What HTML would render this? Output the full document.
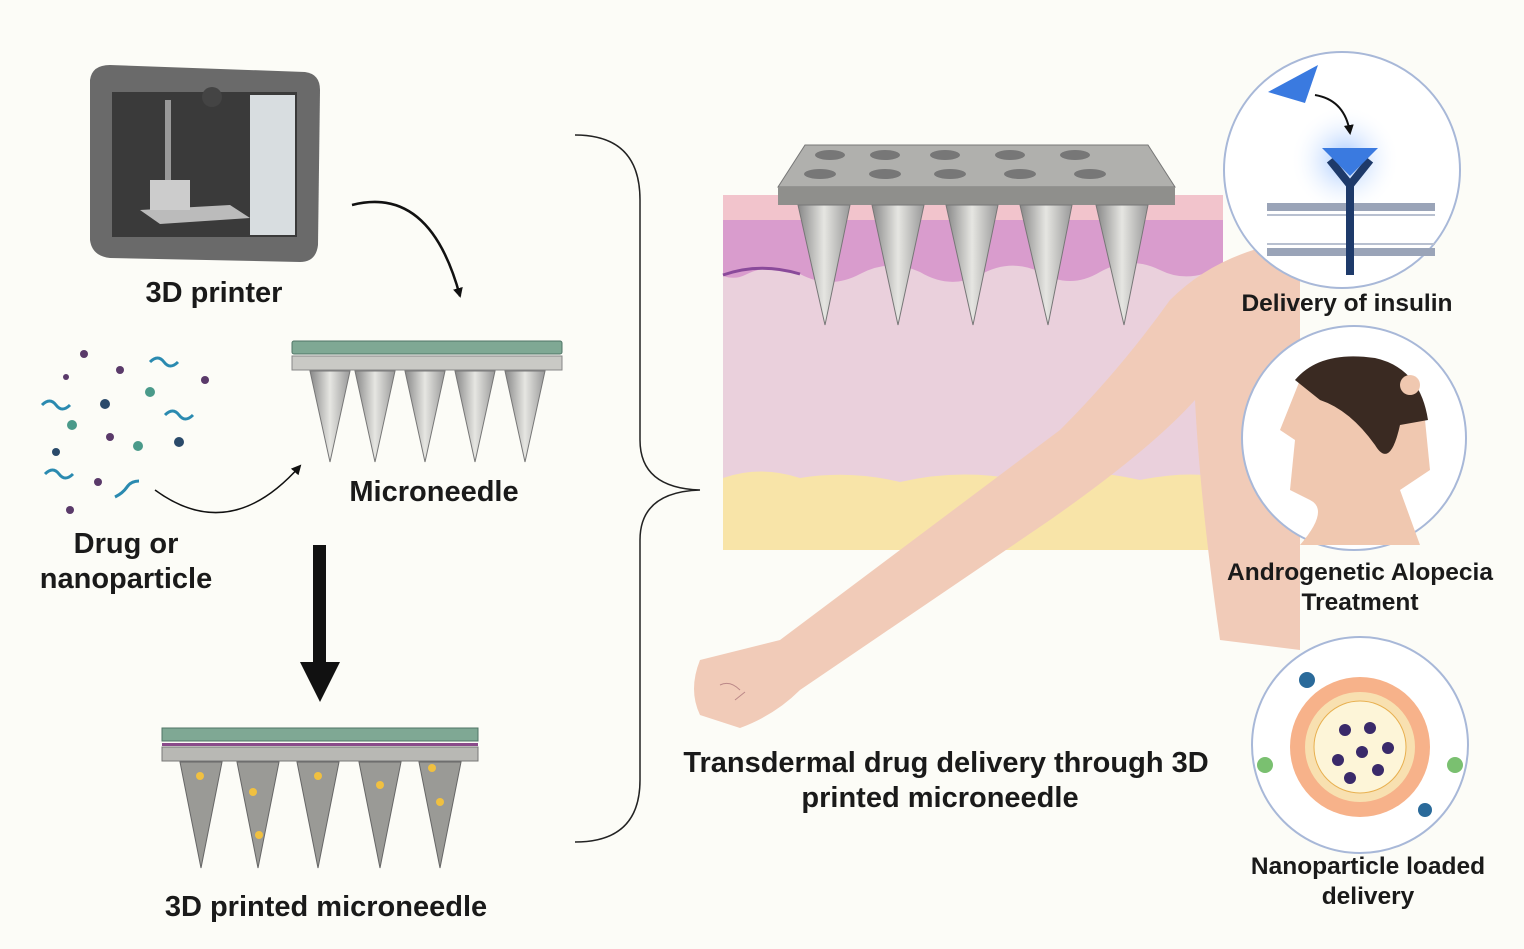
<!DOCTYPE html>
<html><head><meta charset="utf-8"><style>
html,body{margin:0;padding:0;background:#fcfcf7;}
svg{display:block}
text{font-family:"Liberation Sans",sans-serif;font-weight:bold;fill:#1a1a1a;font-size:29px;text-anchor:middle}
text.s{font-size:24.5px}
</style></head><body>
<svg width="1524" height="949" viewBox="0 0 1524 949" xmlns="http://www.w3.org/2000/svg">
<defs>
<marker id="ah" markerWidth="10" markerHeight="10" refX="8" refY="5" orient="auto" markerUnits="userSpaceOnUse"><path d="M0,0 L10,5 L0,10 Z" fill="#111"/></marker>
<linearGradient id="ndl" x1="0" x2="1"><stop offset="0" stop-color="#888"/><stop offset=".5" stop-color="#e6e6e2"/><stop offset="1" stop-color="#999"/></linearGradient>
<radialGradient id="glow"><stop offset="0" stop-color="#9ec4ff"/><stop offset="1" stop-color="#fff" stop-opacity="0"/></radialGradient>
</defs>
<rect width="1524" height="949" fill="#fcfcf7"/>
<path d="M90,80 Q92,65 110,65 L305,72 Q320,74 320,90 L318,245 Q316,262 300,262 L110,258 Q92,256 90,240 Z" fill="#6a6a6a"/>
<rect x="112" y="92" width="185" height="145" fill="#3a3a3a"/>
<rect x="250" y="95" width="45" height="140" fill="#d8dde0"/>
<circle cx="212" cy="97" r="10" fill="#444"/>
<rect x="165" y="100" width="6" height="90" fill="#999"/>
<path d="M140,210 L230,205 L250,218 L160,224 Z" fill="#bbb"/>
<rect x="150" y="180" width="40" height="30" fill="#ccc"/>
<text x="214" y="302">3D printer</text>
<path d="M352,205 Q430,185 460,296" fill="none" stroke="#111" stroke-width="2.5" marker-end="url(#ah)"/>
<path d="M155,490 Q230,545 300,466" fill="none" stroke="#111" stroke-width="1.5" marker-end="url(#ah)"/>
<rect x="292" y="341" width="270" height="13" rx="2" fill="#7fa894" stroke="#4f7566"/>
<rect x="292" y="356" width="270" height="14" fill="#c9c9c5" stroke="#888"/>
<g fill="url(#ndl)" stroke="#777">
<path d="M310,371 L350,371 L330,462 Z"/><path d="M355,371 L395,371 L375,462 Z"/><path d="M405,371 L445,371 L425,462 Z"/><path d="M455,371 L495,371 L475,462 Z"/><path d="M505,371 L545,371 L525,462 Z"/>
</g>
<text x="434" y="501">Microneedle</text>
<g fill="#5a3a6a"><circle cx="84" cy="354" r="4"/><circle cx="120" cy="370" r="4"/><circle cx="205" cy="380" r="4"/><circle cx="66" cy="377" r="3"/><circle cx="110" cy="437" r="4"/><circle cx="98" cy="482" r="4"/><circle cx="70" cy="510" r="4"/></g>
<g fill="#2a4a6a"><circle cx="105" cy="404" r="5"/><circle cx="179" cy="442" r="5"/><circle cx="56" cy="452" r="4"/></g>
<g fill="#4a9a8a"><circle cx="150" cy="392" r="5"/><circle cx="72" cy="425" r="5"/><circle cx="138" cy="446" r="5"/></g>
<g fill="none" stroke="#2a8ab0" stroke-width="3"><path d="M150,362 q8,-8 14,0 t14,0"/><path d="M42,405 q8,-8 14,0 t14,0"/><path d="M165,415 q8,-8 14,0 t14,0"/><path d="M45,474 q8,-8 14,0 t14,0"/><path d="M115,497 q8,-4 12,-10 t12,-6"/></g>
<text x="126" y="553">Drug or</text>
<text x="126" y="588">nanoparticle</text>
<rect x="313" y="545" width="13" height="120" fill="#111"/>
<path d="M300,662 L340,662 L320,702 Z" fill="#111"/>
<rect x="162" y="728" width="316" height="13" fill="#7fa894" stroke="#4f7566"/>
<rect x="162" y="743" width="316" height="3" fill="#8a4a8a"/>
<rect x="162" y="747" width="316" height="14" fill="#b8b8b4" stroke="#777"/>
<g fill="#9a9a96" stroke="#666">
<path d="M180,762 L222,762 L201,868 Z"/><path d="M237,762 L279,762 L258,868 Z"/><path d="M297,762 L339,762 L318,868 Z"/><path d="M359,762 L401,762 L380,868 Z"/><path d="M419,762 L461,762 L440,868 Z"/>
</g>
<g fill="#f0c040"><circle cx="200" cy="776" r="4"/><circle cx="253" cy="792" r="4"/><circle cx="259" cy="835" r="4"/><circle cx="318" cy="776" r="4"/><circle cx="380" cy="785" r="4"/><circle cx="432" cy="768" r="4"/><circle cx="440" cy="802" r="4"/></g>
<text x="326" y="916">3D printed microneedle</text>
<path d="M575,135 Q640,135 640,200 L640,440 Q640,488 700,490 Q640,492 640,540 L640,780 Q640,842 575,842" fill="none" stroke="#222" stroke-width="1.5"/>
<rect x="723" y="195" width="500" height="355" fill="#ead0dc"/>
<rect x="723" y="195" width="500" height="25" fill="#f2c4cc"/>
<path d="M723,220 L1223,220 L1223,265 Q1190,285 1160,270 Q1130,255 1100,272 Q1070,290 1040,272 Q1010,258 980,275 Q950,290 920,272 Q890,258 860,274 Q830,290 800,274 Q770,262 745,275 Q735,280 723,276 Z" fill="#d99ccd"/>
<path d="M723,275 Q760,262 800,274" stroke="#8a4a9a" stroke-width="3" fill="none"/>
<path d="M723,478 Q760,465 800,478 Q850,470 900,482 Q960,468 1020,480 Q1080,466 1140,480 Q1190,470 1223,478 L1223,550 L723,550 Z" fill="#f8e4a8"/>
<path d="M805,145 L1148,145 L1175,187 L778,187 Z" fill="#b0b0ad" stroke="#777"/>
<rect x="778" y="187" width="397" height="18" fill="#8f8f8c"/>
<g fill="#777"><ellipse cx="830" cy="155" rx="15" ry="5"/><ellipse cx="885" cy="155" rx="15" ry="5"/><ellipse cx="945" cy="155" rx="15" ry="5"/><ellipse cx="1010" cy="155" rx="15" ry="5"/><ellipse cx="1075" cy="155" rx="15" ry="5"/>
<ellipse cx="820" cy="174" rx="16" ry="5"/><ellipse cx="885" cy="174" rx="16" ry="5"/><ellipse cx="950" cy="174" rx="16" ry="5"/><ellipse cx="1020" cy="174" rx="16" ry="5"/><ellipse cx="1090" cy="174" rx="16" ry="5"/></g>
<g fill="url(#ndl)" stroke="#777">
<path d="M798,205 L850,205 L825,325 Z"/><path d="M872,205 L924,205 L898,325 Z"/><path d="M946,205 L998,205 L973,325 Z"/><path d="M1020,205 L1072,205 L1048,325 Z"/><path d="M1096,205 L1148,205 L1124,325 Z"/>
</g>
<path d="M1300,240 Q1220,250 1170,300 Q1120,370 1060,430 L780,640 L700,660 Q688,690 700,715 L740,728 Q775,715 800,690 L1050,520 Q1150,450 1195,400 Q1200,500 1220,640 L1300,650 Z" fill="#f1cbb8"/>
<path d="M720,685 q10,-5 20,5 M735,700 l10,-8" stroke="#b88" fill="none"/>
<circle cx="1342" cy="170" r="118" fill="#fff" stroke="#a8b8d8" stroke-width="2"/>
<circle cx="1345" cy="160" r="55" fill="url(#glow)"/>
<g fill="#9aa4b8"><rect x="1267" y="203" width="168" height="8"/><rect x="1267" y="248" width="168" height="8"/></g>
<g stroke="#b8c0d0" stroke-width="2"><path d="M1267,215 L1435,215 M1267,244 L1435,244"/></g>
<path d="M1330,160 L1350,185 L1370,160" stroke="#1e3a6a" stroke-width="8" fill="none"/>
<rect x="1346" y="185" width="8" height="90" fill="#1e3a6a"/>
<path d="M1322,148 L1378,148 L1350,176 Z" fill="#3a7ae0"/>
<path d="M1268,92 L1318,65 L1305,103 Z" fill="#3a7ae0"/>
<path d="M1315,95 Q1345,100 1350,133" fill="none" stroke="#111" stroke-width="2" marker-end="url(#ah)"/>
<text class="s" x="1347" y="311">Delivery of insulin</text>
<circle cx="1354" cy="438" r="112" fill="#fff" stroke="#a8b8d8" stroke-width="2"/>
<path d="M1300,380 Q1320,355 1370,360 Q1420,370 1425,420 L1430,470 L1400,490 L1420,545 L1300,545 Q1330,510 1310,500 L1290,490 L1295,440 L1280,430 Z" fill="#f0c8b0"/>
<path d="M1295,380 Q1320,350 1375,358 Q1420,368 1428,420 L1400,425 Q1390,470 1375,445 Q1350,410 1320,400 Z" fill="#3a2a22"/>
<circle cx="1410" cy="385" r="10" fill="#f0c8b0"/>
<text class="s" x="1360" y="580">Androgenetic Alopecia</text>
<text class="s" x="1360" y="610">Treatment</text>
<circle cx="1360" cy="745" r="108" fill="#fff" stroke="#a8b8d8" stroke-width="2"/>
<circle cx="1360" cy="747" r="70" fill="#f7b28a"/>
<circle cx="1360" cy="747" r="55" fill="#f8e0b0"/>
<circle cx="1360" cy="747" r="46" fill="#fdf5d8" stroke="#e8b050"/>
<g fill="#3a2a6a"><circle cx="1345" cy="730" r="6"/><circle cx="1370" cy="728" r="6"/><circle cx="1388" cy="748" r="6"/><circle cx="1362" cy="752" r="6"/><circle cx="1338" cy="760" r="6"/><circle cx="1378" cy="770" r="6"/><circle cx="1350" cy="778" r="6"/></g>
<circle cx="1307" cy="680" r="8" fill="#2a6a9a"/><circle cx="1265" cy="765" r="8" fill="#7ac070"/><circle cx="1455" cy="765" r="8" fill="#7ac070"/><circle cx="1425" cy="810" r="7" fill="#2a6a9a"/>
<text class="s" x="1368" y="874">Nanoparticle loaded</text>
<text class="s" x="1368" y="904">delivery</text>
<text x="946" y="772">Transdermal drug delivery through 3D</text>
<text x="940" y="807">printed microneedle</text>
</svg>
</body></html>
